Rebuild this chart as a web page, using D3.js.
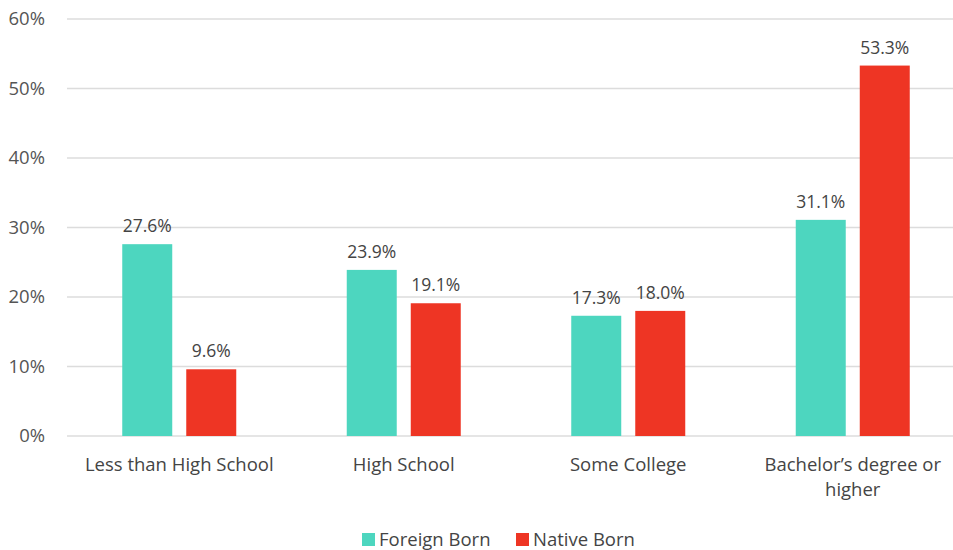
<!DOCTYPE html>
<html><head><meta charset="utf-8">
<script src="https://cdn.jsdelivr.net/npm/d3@7"></script>
<style>body{margin:0;background:#fff;}svg{display:block;font-family:"Open Sans",sans-serif;}</style>
</head><body><svg id="c" width="953" height="550"></svg>
<script>
const categories = ["Less than High School", "High School", "Some College", "Bachelor\u2019s degree or higher"];
const categoryLines = [["Less than High School"], ["High School"], ["Some College"], ["Bachelor\u2019s degree or", "higher"]];
const seriesNames = ["Foreign Born", "Native Born"];
const foreignBorn = [27.6, 23.9, 17.3, 31.1];
const nativeBorn = [9.6, 19.1, 18.0, 53.3];
const yTicks = [0, 10, 20, 30, 40, 50, 60];
const colors = ["#4dd6bf", "#ee3524"];

const svg = d3.select("#c");
const y = d3.scaleLinear().domain([0, 60]).range([436, 19]);
const x0 = d3.scaleBand().domain(categories).range([67, 965]).paddingInner(0).paddingOuter(0);
const x1 = d3.scaleBand().domain(seriesNames).range([0, 114]).paddingInner(0.219);

const yAxis = d3.axisLeft(y).tickValues(yTicks).tickFormat(d => d + "%").tickSize(0).tickPadding(22);
const ga = svg.append("g").attr("transform", "translate(67,0)").call(yAxis);
ga.select(".domain").remove();
ga.selectAll("text").attr("font-size", 18.5).attr("fill", "#555").attr("font-family", "Open Sans, sans-serif");
svg.append("g").selectAll("line").data(yTicks).join("line")
  .attr("x1", 67).attr("x2", 953).attr("y1", d => y(d)).attr("y2", d => y(d))
  .attr("stroke", "#dcdcdc").attr("stroke-width", 1.5);

const data = categories.map((c, i) => ({cat: c, vals: [foreignBorn[i], nativeBorn[i]]}));
const groups = svg.append("g").selectAll("g").data(data).join("g")
  .attr("transform", d => `translate(${x0(d.cat) + (x0.bandwidth() - 114) / 2},0)`);
groups.selectAll("rect").data(d => d.vals.map((v, j) => ({s: seriesNames[j], v, j}))).join("rect")
  .attr("x", d => x1(d.s)).attr("width", x1.bandwidth())
  .attr("y", d => y(d.v)).attr("height", d => y(0) - y(d.v))
  .attr("fill", d => colors[d.j]);
groups.selectAll("text.v").data(d => d.vals.map((v, j) => ({s: seriesNames[j], v, j}))).join("text")
  .attr("class", "v")
  .attr("x", d => x1(d.s) + x1.bandwidth() / 2).attr("y", d => y(d.v) - 12)
  .attr("text-anchor", "middle").attr("font-size", 17.5).attr("fill", "#444")
  .text(d => d.v.toFixed(1) + "%");

const cl = svg.append("g").selectAll("text").data(categories).join("text")
  .attr("x", d => x0(d) + x0.bandwidth() / 2).attr("y", 471)
  .attr("text-anchor", "middle").attr("font-size", 18.5).attr("fill", "#444");
cl.selectAll("tspan").data((d, i) => categoryLines[i]).join("tspan")
  .attr("x", function() { return d3.select(this.parentNode).attr("x"); })
  .attr("dy", (d, i) => i === 0 ? 0 : 25).text(d => d);

const legX = [362, 516];
const lg = svg.append("g").selectAll("g").data(seriesNames).join("g")
  .attr("transform", (d, i) => `translate(${legX[i]},539)`);
lg.append("rect").attr("x", 0).attr("y", -6).attr("width", 13).attr("height", 13).attr("fill", (d, i) => colors[i]);
lg.append("text").attr("x", 17).attr("y", 7).attr("font-size", 18.5).attr("fill", "#444").text(d => d);
</script></body></html>
